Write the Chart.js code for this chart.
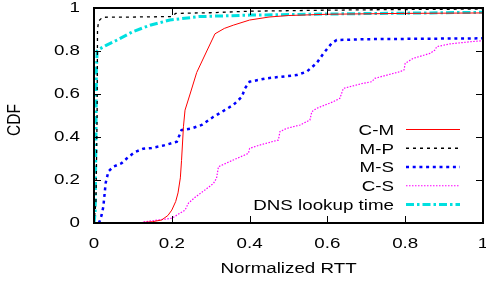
<!DOCTYPE html>
<html><head><meta charset="utf-8">
<style>html,body{margin:0;padding:0;background:#fff;}#c{display:block;}</style>
<script src="https://cdn.jsdelivr.net/npm/chart.js@4.4.1/dist/chart.umd.min.js"></script>
</head><body>
<canvas id="c" width="486" height="285"></canvas>
<script>
const seriesNames = ["C-M", "M-P", "M-S", "C-S", "DNS lookup time"];

const cmX = [0, 0.10, 0.13, 0.15, 0.174, 0.19, 0.20, 0.21, 0.216, 0.222, 0.225, 0.23, 0.234, 0.247, 0.264, 0.29, 0.311, 0.335, 0.358, 0.40, 0.45, 0.5, 0.6, 0.8, 1.0];
const cmY = [0, 0, 0.003, 0.006, 0.014, 0.035, 0.06, 0.10, 0.14, 0.21, 0.29, 0.45, 0.525, 0.60, 0.70, 0.80, 0.88, 0.905, 0.92, 0.944, 0.958, 0.965, 0.971, 0.975, 0.977];

const mpX = [0, 0.005, 0.008, 0.009, 0.012, 0.022, 0.1, 0.2, 0.21, 0.3, 0.4, 0.6, 0.8, 1.0];
const mpY = [0, 0.1, 0.5, 0.9, 0.94, 0.957, 0.958, 0.96, 0.975, 0.978, 0.985, 0.99, 0.993, 0.995];

const msX = [0.012, 0.015, 0.02, 0.024, 0.03, 0.037, 0.05, 0.071, 0.084, 0.105, 0.126, 0.148, 0.178, 0.213, 0.22, 0.225, 0.251, 0.277, 0.307, 0.315, 0.358, 0.38, 0.388, 0.40, 0.444, 0.521, 0.547, 0.572, 0.59, 0.611, 0.624, 0.7, 0.85, 1.0];
const msY = [0, 0.01, 0.04, 0.076, 0.186, 0.24, 0.262, 0.278, 0.30, 0.33, 0.345, 0.349, 0.36, 0.378, 0.41, 0.432, 0.44, 0.456, 0.494, 0.502, 0.549, 0.587, 0.626, 0.657, 0.673, 0.688, 0.704, 0.743, 0.789, 0.836, 0.851, 0.855, 0.857, 0.859];

const csX = [0.12, 0.131, 0.2, 0.234, 0.243, 0.26, 0.285, 0.307, 0.315, 0.32, 0.358, 0.397, 0.40, 0.427, 0.474, 0.478, 0.495, 0.53, 0.555, 0.56, 0.572, 0.615, 0.632, 0.641, 0.692, 0.714, 0.722, 0.787, 0.797, 0.80, 0.821, 0.864, 0.877, 0.881, 0.915, 0.967, 1.0];
const csY = [0, 0.006, 0.022, 0.06, 0.093, 0.12, 0.153, 0.184, 0.208, 0.262, 0.293, 0.324, 0.347, 0.363, 0.386, 0.425, 0.44, 0.456, 0.479, 0.518, 0.533, 0.564, 0.58, 0.626, 0.65, 0.657, 0.673, 0.704, 0.712, 0.743, 0.766, 0.789, 0.805, 0.82, 0.833, 0.843, 0.848];

const dnsX = [0, 0.003, 0.005, 0.006, 0.008, 0.015, 0.03, 0.058, 0.1, 0.144, 0.195, 0.27, 0.4, 0.6, 0.8, 1.0];
const dnsY = [0, 0.05, 0.4, 0.7, 0.8, 0.81, 0.825, 0.85, 0.89, 0.92, 0.944, 0.96, 0.967, 0.972, 0.976, 0.98];

const xTickValues = [0, 0.2, 0.4, 0.6, 0.8, 1];
const xTickLabels = ["0", "0.2", "0.4", "0.6", "0.8", "1"];
const yTickValues = [0, 0.2, 0.4, 0.6, 0.8, 1];
const yTickLabels = ["0", "0.2", "0.4", "0.6", "0.8", "1"];
const xTitle = "Normalized RTT";
const yTitle = "CDF";

const pts = (xs, ys) => xs.map((v, i) => ({x: v, y: ys[i]}));

const FONT = "'Liberation Sans', Arial, Helvetica, sans-serif";
const FSIZE = 15.5;
const TEXT_SX = 1.21; // the reference text is horizontally widened
Chart.defaults.font.family = FONT;
Chart.defaults.font.size = FSIZE;
Chart.defaults.color = '#000';

const canvas = document.getElementById('c');
const c2d = canvas.getContext('2d');
const origFillText = c2d.fillText;
c2d.fillText = function (t, x, y, mw) {
  const m = this.getTransform();
  const p = m.transformPoint(new DOMPoint(x, y));
  this.save();
  this.setTransform(TEXT_SX, 0, 0, 1, p.x - TEXT_SX * p.x, 0);
  this.transform(m.a, m.b, m.c, m.d, m.e, m.f);
  if (mw === undefined) origFillText.call(this, t, x, y);
  else origFillText.call(this, t, x, y, mw);
  this.restore();
};

const frame = {
  id: 'frame',
  afterDatasetsDraw(chart) {
    const {ctx, chartArea: a, scales: {x, y}} = chart;
    ctx.save();
    ctx.strokeStyle = '#000';
    ctx.lineWidth = 1;
    ctx.setLineDash([]);
    ctx.beginPath();
    const tl = 7;
    xTickValues.forEach(v => {
      const px = Math.round(x.getPixelForValue(v)) + 0.5;
      ctx.moveTo(px, a.bottom); ctx.lineTo(px, a.bottom - tl);
      ctx.moveTo(px, a.top); ctx.lineTo(px, a.top + tl);
    });
    yTickValues.forEach(v => {
      const py = Math.round(y.getPixelForValue(v)) + 0.5;
      ctx.moveTo(a.left, py); ctx.lineTo(a.left + tl, py);
      ctx.moveTo(a.right, py); ctx.lineTo(a.right - tl, py);
    });
    ctx.stroke();
    ctx.lineWidth = 2;
    ctx.strokeRect(a.left, a.top, a.right - a.left, a.bottom - a.top);

    // y axis title
    ctx.fillStyle = '#000';
    ctx.font = FSIZE + 'px ' + FONT;
    ctx.save();
    ctx.translate(15, (a.top + a.bottom) / 2 + 4.5);
    ctx.rotate(-Math.PI / 2);
    ctx.textAlign = 'center';
    ctx.textBaseline = 'middle';
    ctx.fillText(yTitle, 0, 0);
    ctx.restore();

    // key like gnuplot: right-aligned text, sample on the right
    const textRight = a.right - 89;
    const s0 = a.right - 77, s1 = a.right - 23;
    const n = chart.data.datasets.length;
    const rowH = 18.75;
    ctx.textAlign = 'right';
    ctx.textBaseline = 'middle';
    chart.data.datasets.forEach((ds, i) => {
      const yy = a.bottom - 18.5 - (n - 1 - i) * rowH;
      ctx.fillStyle = '#000';
      ctx.fillText(ds.label, textRight, yy + 1);
      ctx.beginPath();
      ctx.strokeStyle = ds.borderColor;
      ctx.lineWidth = ds.borderWidth;
      ctx.setLineDash(ds.borderDash || []);
      ctx.moveTo(s0, yy); ctx.lineTo(s1, yy);
      ctx.stroke();
    });
    ctx.restore();
  }
};

new Chart(canvas, {
  type: 'scatter',
  data: {
    datasets: [
      {label: seriesNames[0], data: pts(cmX, cmY), borderColor: '#ff0000', borderWidth: 1, borderDash: []},
      {label: seriesNames[1], data: pts(mpX, mpY), borderColor: '#000000', borderWidth: 1.3, borderDash: [3, 4]},
      {label: seriesNames[2], data: pts(msX, msY), borderColor: '#0000ff', borderWidth: 2.5, borderDash: [3, 3.7]},
      {label: seriesNames[3], data: pts(csX, csY), borderColor: '#ff00ff', borderWidth: 1.2, borderDash: [1.5, 1.5]},
      {label: seriesNames[4], data: pts(dnsX, dnsY), borderColor: '#00e0e0', borderWidth: 3, borderDash: [8, 3, 2.5, 3]}
    ].map(d => Object.assign(d, {showLine: true, pointRadius: 0, pointHoverRadius: 0, tension: 0, fill: false}))
  },
  options: {
    responsive: false,
    animation: false,
    events: [],
    layout: {padding: {top: 8, right: 3, left: 0, bottom: 0}},
    plugins: {legend: {display: false}, tooltip: {enabled: false}},
    scales: {
      x: {
        type: 'linear', min: 0, max: 1,
        afterBuildTicks: s => { s.ticks = xTickValues.map(v => ({value: v})); },
        afterFit: s => { s.height = 62; s.paddingLeft = 0; s.paddingRight = 0; },
        ticks: {padding: 11.5, maxRotation: 0, autoSkip: false, callback: (v, i) => xTickLabels[i]},
        grid: {display: false, drawTicks: false},
        border: {display: false},
        title: {display: true, text: xTitle, padding: {top: 0, bottom: 6.5}}
      },
      y: {
        type: 'linear', min: 0, max: 1,
        afterBuildTicks: s => { s.ticks = yTickValues.map(v => ({value: v})); },
        afterFit: s => { s.width = 94; s.paddingTop = 0; s.paddingBottom = 0; },
        ticks: {padding: 14, autoSkip: false, callback: (v, i) => yTickLabels[i]},
        grid: {display: false, drawTicks: false},
        border: {display: false},
        title: {display: false}
      }
    }
  },
  plugins: [frame]
});
</script>
</body></html>
